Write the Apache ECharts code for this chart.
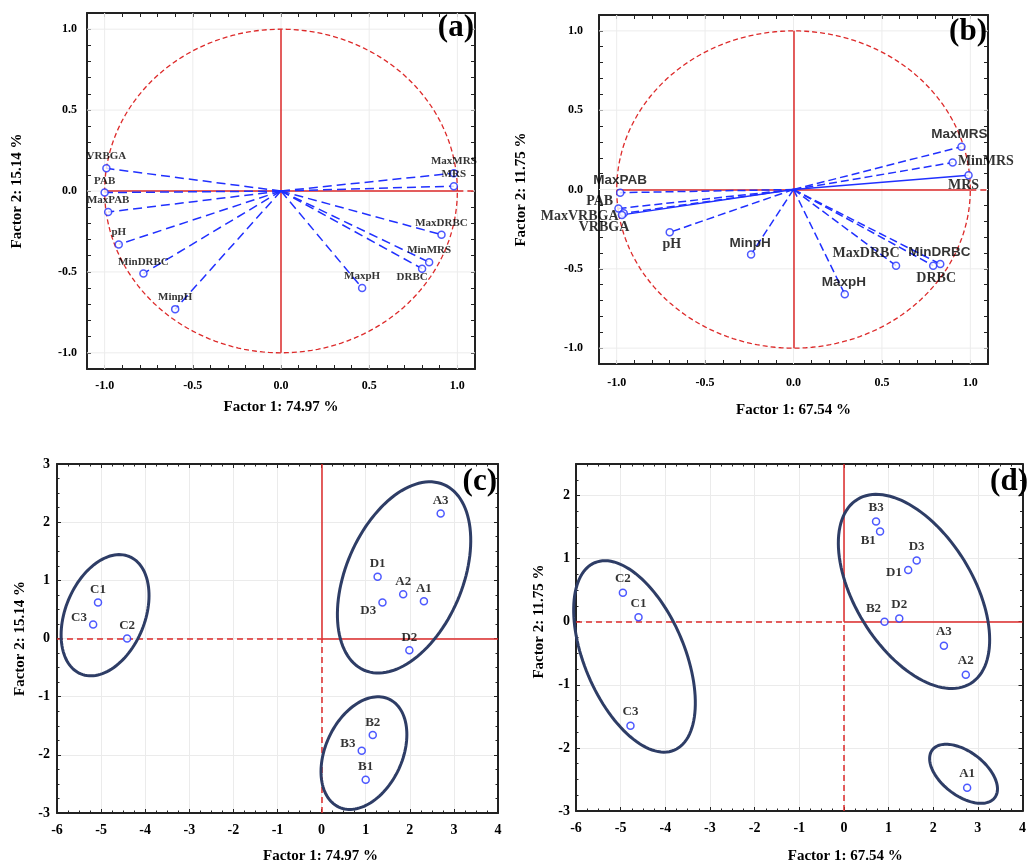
<!DOCTYPE html>
<html>
<head>
<meta charset="utf-8">
<title>PCA loadings and scores</title>
<script src="https://cdn.jsdelivr.net/npm/echarts@6.0.0/dist/echarts.min.js"></script>
<style>
html, body { margin: 0; padding: 0; background: #fff; }
#main { width: 1029px; height: 865px; }
</style>
</head>
<body>
<div id="main"></div>
<script>
// (a) loadings, factor 1 / factor 2
var namesA = ['VRBGA', 'PAB', 'MaxPAB', 'pH', 'MinDRBC', 'MinpH', 'MaxpH', 'DRBC', 'MinMRS', 'MaxDRBC', 'MRS', 'MaxMRS'];
var f1A = [-0.99, -1.00, -0.98, -0.92, -0.78, -0.60, 0.46, 0.80, 0.84, 0.91, 0.98, 0.98];
var f2A = [0.14, -0.01, -0.13, -0.33, -0.51, -0.73, -0.60, -0.48, -0.44, -0.27, 0.03, 0.11];

// (b) loadings
var namesB = ['MaxPAB', 'PAB', 'MaxVRBGA', 'VRBGA', 'pH', 'MinpH', 'MaxpH', 'MaxDRBC', 'DRBC', 'MinDRBC', 'MRS', 'MinMRS', 'MaxMRS'];
var f1B = [-0.98, -0.99, -0.96, -0.97, -0.70, -0.24, 0.29, 0.58, 0.79, 0.83, 0.99, 0.90, 0.95];
var f2B = [-0.02, -0.12, -0.15, -0.16, -0.27, -0.41, -0.66, -0.48, -0.48, -0.47, 0.09, 0.17, 0.27];
var solidB = ['MRS', 'VRBGA'];

// (c) and (d) scores
var samples = ['A1', 'A2', 'A3', 'B1', 'B2', 'B3', 'C1', 'C2', 'C3', 'D1', 'D2', 'D3'];
var f1C = [2.32, 1.85, 2.70, 1.00, 1.16, 0.91, -5.07, -4.41, -5.18, 1.27, 1.99, 1.38];
var f2C = [0.64, 0.76, 2.15, -2.43, -1.66, -1.93, 0.62, 0.00, 0.24, 1.06, -0.20, 0.62];
var f1D = [2.76, 2.73, 2.24, 0.81, 0.91, 0.72, -4.60, -4.95, -4.78, 1.44, 1.24, 1.63];
var f2D = [-2.63, -0.84, -0.38, 1.43, 0.00, 1.59, 0.07, 0.46, -1.65, 0.82, 0.05, 0.97];

// group ellipses: centre (f1, f2), semi axes in factor-1 units, tilt in degrees
var ellCx = [-4.91, 1.87, 0.96], ellCy = [0.40, 1.05, -1.97];
var ellCa = [1.44, 2.29, 1.35], ellCb = [0.90, 1.32, 0.87], ellCt = [67.6, 66.8, 65];
var ellDx = [-4.69, 1.57, 2.68], ellDy = [-0.55, 0.48, -2.41];
var ellDa = [2.28, 2.42, 0.88], ellDb = [1.12, 1.32, 0.49], ellDt = [-67, -58.4, -37.4];

// axes
var ticksAB = [-1.0, -0.5, 0.0, 0.5, 1.0];
var extAB = [-1.1, 1.1];
var extCDx = [-6, 4], extCy = [-3, 3], extDy = [-3, 2.5];

var serif = '"Liberation Serif", "Times New Roman", serif';
var sans = '"Liberation Sans", Arial, sans-serif';
var RED = '#dd2a2a', BLUE = '#2030ff', NAVY = '#2e3d66', INK = '#000';

var grids = [
    {left: 87, top: 13, width: 388, height: 356},
    {left: 599, top: 15, width: 389, height: 349},
    {left: 57, top: 464, width: 441, height: 350},
    {left: 576, top: 464, width: 452, height: 347}
];

function abLabel(v) {
    var s = '';
    ticksAB.forEach(function (t) { if (Math.abs(v - t) < 1e-6) s = t.toFixed(1); });
    return s;
}

// one axis; mirror = top/right copy with ticks only
function makeAxis(dim, gi, ext, step, minor, mirror, o) {
    o = o || {};
    var ax = {
        type: 'value', gridIndex: gi,
        position: dim === 'x' ? (mirror ? 'top' : 'bottom') : (mirror ? 'right' : 'left'),
        min: ext[0], max: ext[1], interval: step,
        axisLine: {show: true, onZero: false, lineStyle: {color: '#222', width: 2}},
        axisTick: {show: true, inside: true, length: 4, lineStyle: {color: '#222', width: 1}},
        minorTick: {show: minor > 0, splitNumber: minor || 5, length: 2.5, lineStyle: {color: '#222', width: 1}},
        splitLine: {show: !mirror && !!o.split, lineStyle: {color: '#ebebeb', width: 1}},
        axisLabel: {show: false}
    };
    if (!mirror) {
        ax.axisLabel = {
            show: true, color: INK, fontFamily: serif, fontWeight: 'bold',
            fontSize: o.labelSize, margin: o.margin, formatter: o.formatter,
            showMaxLabel: o.showMax !== false
        };
        ax.name = o.name;
        ax.nameLocation = 'middle';
        ax.nameGap = o.nameGap;
        ax.nameTextStyle = {color: INK, fontFamily: serif, fontWeight: 'bold', fontSize: 15, padding: o.namePad || 0};
    }
    return ax;
}

var xAxes = [], yAxes = [];
function addAxes(gi, xe, ye, step, minor, xo, yo) {
    xAxes.push(makeAxis('x', gi, xe, step, minor, false, xo), makeAxis('x', gi, xe, step, minor, true));
    yAxes.push(makeAxis('y', gi, ye, step, minor, false, yo), makeAxis('y', gi, ye, step, minor, true));
}
addAxes(0, extAB, extAB, 0.1, 0,
    {name: 'Factor 1: 74.97 %', nameGap: 31, labelSize: 12, margin: 11, formatter: abLabel},
    {name: 'Factor 2: 15.14 %', nameGap: 62, labelSize: 12, margin: 10, formatter: abLabel});
addAxes(1, extAB, extAB, 0.1, 0,
    {name: 'Factor 1: 67.54 %', nameGap: 39, labelSize: 12, margin: 13, formatter: abLabel},
    {name: 'Factor 2: 11.75 %', nameGap: 70, labelSize: 12, margin: 16, formatter: abLabel});
addAxes(2, extCDx, extCy, 1, 4,
    {name: 'Factor 1: 74.97 %', nameGap: 36, labelSize: 14, margin: 10, split: true, namePad: [0, 0, 0, 86]},
    {name: 'Factor 2: 15.14 %', nameGap: 29, labelSize: 14, margin: 7, split: true});
addAxes(3, extCDx, extDy, 1, 4,
    {name: 'Factor 1: 67.54 %', nameGap: 38, labelSize: 14, margin: 10, split: true, namePad: [0, 0, 0, 92]},
    {name: 'Factor 2: 11.75 %', nameGap: 29, labelSize: 14, margin: 6, split: true, showMax: false, namePad: [0, 0, 0, 32]});

// label placement per point: [position, dx, dy]
var placeA = {DRBC: ['bottom', -10, -3]};
var placeB = {
    MaxPAB: ['top', 0, 0], PAB: ['left', 0, -7], MaxVRBGA: ['left', 0, 3], VRBGA: ['bottom', -18, 0],
    pH: ['bottom', 2, 0], MinpH: ['top', -1, 1], MaxpH: ['top', -1, 0], MaxDRBC: ['top', -30, 0],
    MinDRBC: ['top', -1, 0], DRBC: ['bottom', 3, 0], MRS: ['bottom', -5, -2], MinMRS: ['right', 0, -1],
    MaxMRS: ['top', -2, 0]
};
var sansB = ['MaxPAB', 'MinpH', 'MaxpH', 'MinDRBC', 'MaxMRS'];
var placeC = {D3: ['left', 0, 8], B3: ['left', 0, -7], C3: ['left', 0, -7]};
var placeD = {B1: ['left', 3, 9], D1: ['left', 1, 3], B2: ['top', -11, 1]};

function pointSeries(k, names, xs, ys, place, size, dist, sansList) {
    return {
        type: 'scatter', xAxisIndex: 2 * k, yAxisIndex: 2 * k, z: 5,
        symbol: 'circle', symbolSize: 7,
        itemStyle: {color: '#fff', borderColor: BLUE, borderWidth: 1.5},
        label: {show: true, color: INK, fontFamily: serif, fontWeight: 'bold', fontSize: size, distance: dist},
        data: names.map(function (n, i) {
            var p = place[n] || ['top', 0, 0];
            var isSans = sansList && sansList.indexOf(n) >= 0;
            return {
                name: n, value: [xs[i], ys[i]],
                label: {position: p[0], offset: [p[1], p[2]], formatter: n, color: INK,
                        fontFamily: isSans ? sans : serif, fontSize: isSans ? 13.5 : size}
            };
        })
    };
}

function vectorSeries(k, names, xs, ys, solid, dash) {
    return {
        type: 'lines', coordinateSystem: 'cartesian2d', xAxisIndex: 2 * k, yAxisIndex: 2 * k, z: 4,
        silent: true,
        data: names.map(function (n, i) {
            var s = solid && solid.indexOf(n) >= 0;
            return {coords: [[0, 0], [xs[i], ys[i]]],
                    lineStyle: {color: BLUE, width: 1.5, type: s ? 'solid' : dash, opacity: 1}};
        })
    };
}

function refLines(k, segs) {
    return {
        type: 'lines', coordinateSystem: 'cartesian2d', xAxisIndex: 2 * k, yAxisIndex: 2 * k, z: 3,
        silent: true,
        data: segs.map(function (s) {
            return {coords: [s[0], s[1]], lineStyle: {color: RED, width: 1.5, type: s[2] ? [6, 4] : 'solid', opacity: 1}};
        })
    };
}

function unitCircle(k) {
    return {
        type: 'custom', xAxisIndex: 2 * k, yAxisIndex: 2 * k, z: 3, silent: true,
        data: [[0, 0]],
        renderItem: function (params, api) {
            var pts = [];
            for (var j = 0; j <= 180; j++) {
                var t = j / 180 * Math.PI * 2;
                pts.push(api.coord([Math.cos(t), Math.sin(t)]));
            }
            return {type: 'polyline', shape: {points: pts},
                    style: {stroke: RED, fill: 'none', lineWidth: 1.3, lineDash: [5, 3]}};
        }
    };
}

// faint grid at the labelled ticks of the loading plots
function abGrid(k) {
    return {
        type: 'custom', xAxisIndex: 2 * k, yAxisIndex: 2 * k, z: 1, silent: true,
        data: [[0, 0]],
        renderItem: function (params, api) {
            var kids = [];
            ticksAB.forEach(function (t) {
                var a = api.coord([t, extAB[0]]), b = api.coord([t, extAB[1]]);
                var c = api.coord([extAB[0], t]), d = api.coord([extAB[1], t]);
                kids.push({type: 'line', shape: {x1: a[0], y1: a[1], x2: b[0], y2: b[1]}, style: {stroke: '#ececec', lineWidth: 1}});
                kids.push({type: 'line', shape: {x1: c[0], y1: c[1], x2: d[0], y2: d[1]}, style: {stroke: '#ececec', lineWidth: 1}});
            });
            return {type: 'group', children: kids};
        }
    };
}

function ellipses(k, cx, cy, ra, rb, tilt) {
    return {
        type: 'custom', xAxisIndex: 2 * k, yAxisIndex: 2 * k, z: 4, silent: true,
        data: cx.map(function (v, i) { return [v, cy[i], ra[i], rb[i], tilt[i]]; }),
        encode: {x: 0, y: 1},
        renderItem: function (params, api) {
            var c = api.coord([api.value(0), api.value(1)]);
            var unit = api.size([1, 1])[0];
            var a = api.value(2) * unit, b = api.value(3) * unit;
            var phi = api.value(4) * Math.PI / 180;
            var pts = [];
            for (var j = 0; j < 120; j++) {
                var t = j / 120 * Math.PI * 2;
                var ex = a * Math.cos(t), ey = b * Math.sin(t);
                pts.push([c[0] + ex * Math.cos(phi) - ey * Math.sin(phi),
                          c[1] - (ex * Math.sin(phi) + ey * Math.cos(phi))]);
            }
            return {type: 'polygon', shape: {points: pts},
                    style: {stroke: NAVY, fill: 'none', lineWidth: 3}};
        }
    };
}

var series = [
    abGrid(0), unitCircle(0),
    refLines(0, [[[-1, 0], [1, 0], false], [[1, 0], [extAB[1], 0], true], [[0, -1], [0, 1], false]]),
    vectorSeries(0, namesA, f1A, f2A, null, [9, 5]),
    pointSeries(0, namesA, f1A, f2A, placeA, 11, 2),

    abGrid(1), unitCircle(1),
    refLines(1, [[[-1, 0], [1, 0], false], [[1, 0], [extAB[1], 0], true], [[0, -1], [0, 1], false]]),
    vectorSeries(1, namesB, f1B, f2B, solidB, [8, 4]),
    pointSeries(1, namesB, f1B, f2B, placeB, 14, 1, sansB),

    refLines(2, [[[extCDx[0], 0], [0, 0], true], [[0, 0], [extCDx[1], 0], false],
                 [[0, extCy[0]], [0, 0], true], [[0, 0], [0, extCy[1]], false]]),
    ellipses(2, ellCx, ellCy, ellCa, ellCb, ellCt),
    pointSeries(2, samples, f1C, f2C, placeC, 13, 2),

    refLines(3, [[[extCDx[0], 0], [0, 0], true], [[0, 0], [extCDx[1], 0], false],
                 [[0, extDy[0]], [0, 0], true], [[0, 0], [0, extDy[1]], false]]),
    ellipses(3, ellDx, ellDy, ellDa, ellDb, ellDt),
    pointSeries(3, samples, f1D, f2D, placeD, 13, 3)
];

function panelTag(text, x, y) {
    return {type: 'text', x: x, y: y, z: 10,
            style: {text: text, fill: '#000', font: 'bold 31px ' + serif, textAlign: 'right', textVerticalAlign: 'middle'}};
}

var myChart = echarts.init(document.getElementById('main'), null, {renderer: 'canvas'});
myChart.setOption({
    animation: false,
    backgroundColor: '#fff',
    grid: grids,
    xAxis: xAxes,
    yAxis: yAxes,
    series: series,
    graphic: [
        panelTag('(a)', 474, 28),
        panelTag('(b)', 987, 32),
        panelTag('(c)', 497, 482),
        panelTag('(d)', 1028, 482)
    ]
});
</script>
</body>
</html>
